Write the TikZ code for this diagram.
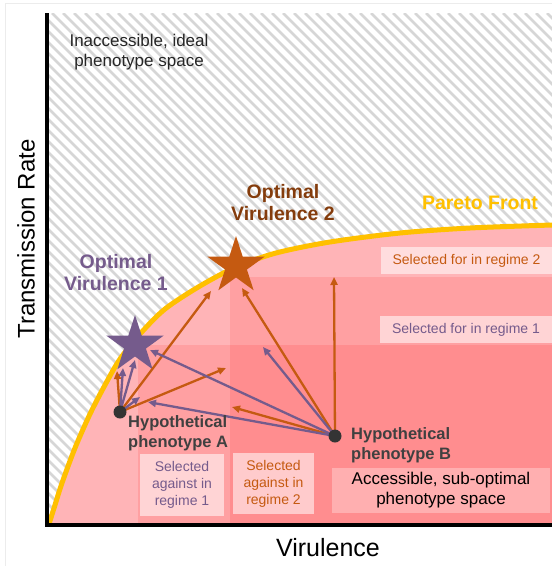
\documentclass[tikz,border=0pt]{standalone}
\usepackage{fontspec}
\setmainfont{Liberation Sans}
\usetikzlibrary{arrows.meta,shapes.geometric}

\definecolor{vpurple}{RGB}{117,91,140}
\definecolor{vorange}{RGB}{197,90,17}
\definecolor{vbrown}{RGB}{132,60,12}
\definecolor{pgold}{RGB}{255,192,0}
\definecolor{pinkA}{RGB}{255,180,183}
\definecolor{pinkB}{RGB}{255,160,162}
\definecolor{pinkC}{RGB}{255,141,143}
\definecolor{hatchgray}{RGB}{214,214,214}
\definecolor{textgray}{RGB}{64,64,64}
\definecolor{dotgray}{RGB}{52,52,52}

\tikzset{
	hatchline/.style={line width=2.5pt, color=hatchgray},
	pareto/.style={line width=5pt, color=pgold},
	arr/.style={line width=2.3pt, -{Triangle[length=8pt,width=7pt]}},
	optstar/.style={star, star points=5, star point ratio=2.618, minimum size=60pt, inner sep=0pt},
	pdot/.style={circle, fill=dotgray, minimum size=13pt, inner sep=0pt},
	selbox/.style={fill=white, fill opacity=0.55, text opacity=1, inner sep=0pt, align=center, font=\fontsize{14}{17}\selectfont},
	boldlab/.style={font=\bfseries\fontsize{19.5}{22}\selectfont, align=center},
	hyplab/.style={font=\bfseries\fontsize{16.5}{20}\selectfont, align=left, text=textgray, inner sep=0pt, anchor=west},
	axlab/.style={font=\fontsize{24}{28}\selectfont}
}

\begin{document}
\begin{tikzpicture}[x=1pt,y=-1pt]
	\useasboundingbox (0,0) rectangle (552,566);
	\draw[gray!15, line width=1pt] (5,566) -- (5,3) -- (552,3);

	% inaccessible space
	\begin{scope}
		\clip (49,13) rectangle (552,523);
		\foreach \k in {-520,-509,...,560}
			\draw[hatchline] (\k,13) -- ++(520,520);
	\end{scope}

	% accessible space
	\fill[pinkA] plot[smooth] coordinates {(49,524) (55,505) (62,483) (75,448) (90,414) (105,385) (120,359) (140,334) (165,309) (200,286) (236,267) (276,253) (330,242) (400,233) (470,228) (552,225)} -- (552,523) -- (49,523) -- cycle;
	\fill[pinkB] (138,345) rectangle (552,523);
	\fill[pinkB] (230,277) rectangle (552,523);
	\fill[pinkC] (230,345) rectangle (552,523);
	\draw[pareto] plot[smooth] coordinates {(49,524) (55,505) (62,483) (75,448) (90,414) (105,385) (120,359) (140,334) (165,309) (200,286) (236,267) (276,253) (330,242) (400,233) (470,228) (552,225)};

	\draw[line width=4pt] (47,13) -- (47,525) -- (552,525);

	\node[selbox, text=vorange, minimum width=171pt, minimum height=27pt] (for2) at (466.5,260.5) {Selected for in regime 2};
	\node[selbox, text=vpurple, minimum width=172pt, minimum height=27pt] (for1) at (466,329.5) {Selected for in regime 1};
	\node[selbox, text=vpurple, minimum width=84pt, minimum height=62pt] (against1) at (182,485) {Selected\\against in\\regime 1};
	\node[selbox, text=vorange, minimum width=81pt, minimum height=61pt] (against2) at (273.5,483.5) {Selected\\against in\\regime 2};
	\node[selbox, fill opacity=0.3, font=\fontsize{17}{20}\selectfont, minimum width=218pt, minimum height=45pt] (access) at (441,490.5) {Accessible, sub-optimal\\phenotype space};

	\node[optstar, fill=vpurple] (opt1) at (135,345) {};
	\node[optstar, fill=vorange] (opt2) at (236,266) {};

	\coordinate (a1) at (117,371);
	\coordinate (a2) at (123,368);
	\coordinate (a3) at (135,360);
	\coordinate (a4) at (140,397);
	\coordinate (a5) at (211,291);
	\coordinate (a6) at (226,368);
	\coordinate (b1) at (334,277);
	\coordinate (b2) at (242,288);
	\coordinate (b3) at (263,347);
	\coordinate (b4) at (232,407);
	\coordinate (b5) at (150,350);
	\coordinate (b6) at (148,402);

	\coordinate (pA) at (120,412);
	\coordinate (pB) at (335,436);
	\draw[arr, vorange] (pA) -- (a1);
	\draw[arr, vorange] (pA) -- (a5);
	\draw[arr, vorange] (pA) -- (a6);
	\draw[arr, vorange] (pB) -- (b1);
	\draw[arr, vorange] (pB) -- (b2);
	\draw[arr, vorange] (pB) -- (b4);
	\draw[arr, vpurple] (pA) -- (a2);
	\draw[arr, vpurple] (pA) -- (a3);
	\draw[arr, vpurple] (pA) -- (a4);
	\draw[arr, vpurple] (pB) -- (b3);
	\draw[arr, vpurple] (pB) -- (b5);
	\draw[arr, vpurple] (pB) -- (b6);

	\node[pdot] (phA) at (pA) {};
	\node[pdot] (phB) at (pB) {};

	\node[hyplab] (labA) at (128,433) {Hypothetical\\phenotype A};
	\node[hyplab] (labB) at (351,445) {Hypothetical\\phenotype B};

	\node[boldlab, text=vbrown] (lab2) at (283,203) {Optimal\\Virulence 2};
	\node[boldlab, text=vpurple] (lab1) at (116,273) {Optimal\\Virulence 1};
	\node[boldlab, text=pgold] (front) at (480,203) {Pareto Front};

	\node[font=\fontsize{17}{20}\selectfont, align=center, text=black!85] (ideal) at (139,52) {Inaccessible, ideal\\phenotype space};

	\node[axlab, rotate=90] (ylab) at (26,239) {Transmission Rate};
	\node[axlab, font=\fontsize{25}{28}\selectfont] (xlab) at (328,548) {Virulence};
\end{tikzpicture}
\end{document}
